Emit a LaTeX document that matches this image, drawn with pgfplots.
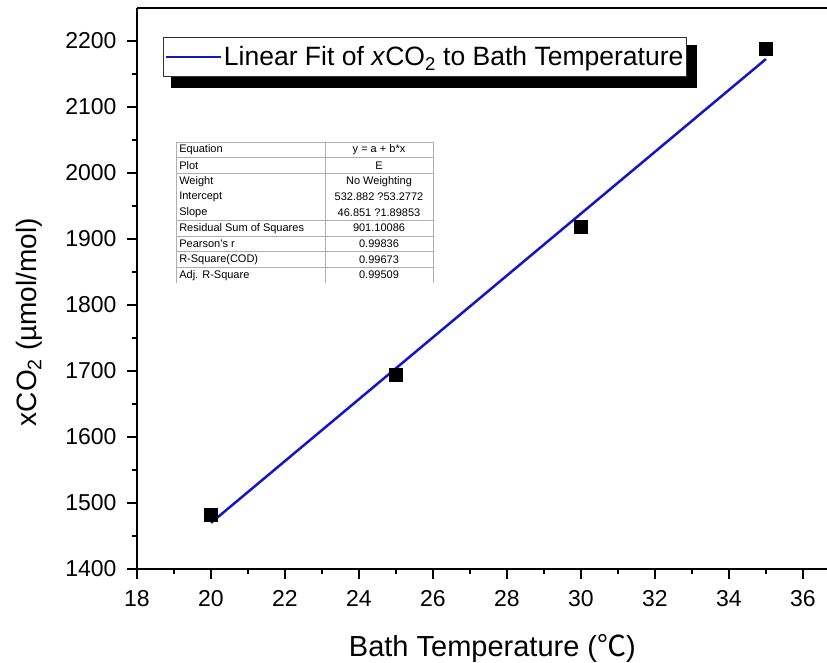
\documentclass[border=0pt]{standalone}
\usepackage{fontspec}
\setmainfont{Liberation Sans}
\newfontfamily\cjk{Noto Sans CJK SC}
\usepackage{pgfplots}
\pgfplotsset{compat=1.18}

\definecolor{fitblue}{RGB}{20,20,200}
\definecolor{gridgray}{RGB}{175,175,175}

\begin{document}
\begin{tikzpicture}[x=1pt,y=1pt]
\begin{axis}[
  at={(0,0)}, anchor=south west,
  scale only axis,
  width=690pt, height=561pt,
  xmin=18, xmax=36.65,
  ymin=1400, ymax=2250,
  axis lines=left,
  axis line style={-, line width=1.4pt, black},
  xtick={18,20,...,36},
  ytick={1400,1500,...,2200},
  minor x tick num=1,
  minor y tick num=1,
  tick align=outside,
  major tick length=10pt,
  minor tick length=5pt,
  every tick/.style={black, line width=1.4pt},
  tick label style={font=\fontsize{23}{25}\selectfont},
  /pgf/number format/assume math mode=true,
  /pgf/number format/1000 sep={},
  xticklabel style={yshift=-8pt},
  yticklabel style={xshift=-7pt},
  xlabel={Bath Temperature ({\cjk ℃})},
  xlabel style={font=\fontsize{29}{32}\selectfont, at={(rel axis cs:0.515,0)}, anchor=base, yshift=-87pt},
  ylabel={xCO\textsubscript{2} (µmol/mol)},
  ylabel style={font=\fontsize{28}{30}\selectfont, at={(rel axis cs:0,0.44)}, anchor=center, yshift=108pt},
  clip=false,
  legend style={
    at={(rel axis cs:0,1)}, anchor=north west,
    xshift=26pt, yshift=-29pt,
    draw=black!80, line width=1pt, fill=white,
    font=\fontsize{26.5}{28}\selectfont,
    inner xsep=1pt, inner ysep=7pt,
  },
  legend image code/.code={\draw[#1, line width=2.5pt] (0pt,0pt) -- (55pt,0pt);},
  legend cell align=left,
]
% shadow behind the legend box
\fill[black] (axis cs:18,2250) ++(34pt,-37pt) rectangle ++(526pt,-43pt);
% measured xCO2 at each bath temperature
\addplot[only marks, mark=square*, mark size=6.5pt, black, forget plot]
  coordinates {(20,1482.7) (25,1694.8) (30,1918.8) (35,2188.9)};
% linear fit y = a + b*x
\addplot[fitblue, line width=2.5pt]
  coordinates {(20,1469.9) (35,2172.7)};
\addlegendentry{Linear Fit of \textit{x}CO\textsubscript{2} to Bath Temperature}
% top frame line
\draw[line width=1.4pt, black] (rel axis cs:0,1) -- (rel axis cs:1,1);
\end{axis}

% fit statistics table
\begin{scope}[gridgray, line width=0.6pt]
  \def\tl{39}\def\tm{188}\def\tr{296}\def\tt{427}\def\rh{15.67}
  \draw (\tl,\tt) -- (\tr,\tt);
  \draw (\tl,\tt) -- (\tl,\tt-9*\rh);
  \draw (\tm,\tt) -- (\tm,\tt-9*\rh);
  \draw (\tr,\tt) -- (\tr,\tt-9*\rh);
  \foreach \r in {1,2,5,6,7,8} {\draw (\tl,\tt-\r*\rh) -- (\tr,\tt-\r*\rh);}
  \foreach \a/\b [count=\i] in {
      Equation/{y = a + b*x},
      Plot/E,
      Weight/No Weighting,
      Intercept/532.882 ?53.2772,
      Slope/46.851 ?1.89853,
      Residual Sum of Squares/901.10086,
      Pearson's r/0.99836,
      R-Square(COD)/0.99673,
      Adj. R-Square/0.99509} {
    \node[black, anchor=west, font=\fontsize{11}{12}\selectfont, inner sep=0pt]
      at (\tl+3, \tt-\i*\rh+0.5*\rh) {\a};
    \node[black, anchor=center, font=\fontsize{11}{12}\selectfont, inner sep=0pt]
      at ({(\tm+\tr)/2}, \tt-\i*\rh+0.5*\rh) {\b};
  }
\end{scope}

\pgfresetboundingbox
\path (-137,-93) rectangle (690,569);
\end{tikzpicture}
\end{document}
